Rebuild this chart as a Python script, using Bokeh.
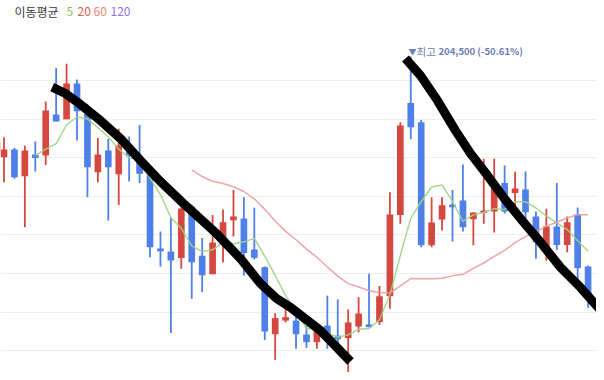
import pandas as pd
from bokeh.plotting import figure
from bokeh.models import Range1d, FixedTicker, Label, ColumnDataSource
from bokeh.embed import file_html
from bokeh.resources import INLINE

# ---- data (daily candles, price in KRW) ----
idx = list(range(-1, 57))
open_ = [163100, 160200, 163600, 151800, 161400, 160900, 179000, 176900, 192600, 179400,
         153600, 163100, 152700, 165600, 160100, 154300, 120000, 118700, 115800, 138500,
         116800, 108700, 122100, 132500, 133200, 119600, 111800, 82300, 88300, 88300,
         82200, 78800, 86100, 81700, 80600, 85700, 86600, 87600, 99000, 134800,
         184000, 175600, 121500, 132800, 139400, 141100, 132900, 135600, 136300, 148800,
         144400, 146000, 134100, 120000, 129700, 121600, 135000, 112100]
high = [169700, 169000, 164200, 165300, 167100, 184700, 199400, 201300, 194400, 183700,
        168600, 168300, 172700, 169300, 174400, 155700, 127500, 133500, 138900, 139400,
        124600, 134800, 137200, 145800, 142600, 137900, 112100, 91600, 94900, 91400,
        86100, 85400, 99300, 97600, 93200, 98600, 108900, 103500, 144800, 175600,
        204500, 176600, 142600, 142600, 145800, 157000, 135900, 159500, 159500, 156500,
        153800, 153900, 136300, 137500, 148800, 134100, 138100, 112500]
low = [158700, 149200, 150700, 129400, 153900, 156800, 175900, 176900, 167500, 142600,
       149200, 132300, 139200, 149500, 148800, 116200, 112100, 82800, 111100, 97900,
       100800, 108700, 114000, 125300, 108100, 115200, 79800, 71000, 87500, 75900,
       76300, 75900, 75900, 76000, 64600, 83100, 85400, 86400, 93500, 130900,
       168100, 120600, 120600, 127900, 123100, 127500, 121500, 130900, 127100, 135400,
       136300, 132300, 115500, 114700, 119400, 118400, 105900, 93900]
close = [166700, 163600, 151400, 163100, 159800, 180700, 175900, 192600, 180400, 155800,
         161400, 155800, 165300, 160900, 152900, 120600, 118800, 114700, 137600, 114000,
         108300, 122700, 131600, 134100, 118000, 115900, 83500, 89400, 89800, 82300,
         78800, 83900, 79800, 80100, 87500, 91400, 85400, 99000, 135000, 174100,
         173400, 121500, 131500, 139100, 138200, 129400, 135900, 136700, 147700, 136300,
         146400, 136000, 122800, 129700, 121600, 131600, 111400, 99800]

grid_ticks = [194000, 177000, 160000, 143000, 126000, 109000, 92000, 75000]

legend_labels = ["이동평균", "5", "20", "60", "120"]
legend_colors = ["#3a3a3a", "#8cc152", "#e05a55", "#f08a70", "#9a6cf2"]

peak_marker = "▼"
peak_word = "최고"
peak_value = "204,500 (-50.61%)"

# hand-drawn trend strokes (candle index, price)
draw1_x = [4.62, 5.90, 7.33, 9.25, 11.17, 13.09, 15.00, 17.21, 20.37, 22.67, 24.59, 26.13, 27.47, 30.35, 33.22]
draw1_y = [191000, 188200, 183400, 176300, 168400, 158700, 149500, 139800, 126600, 115600, 104600, 98000, 94100, 83900, 70300]
draw2_x = [38.49, 39.93, 41.56, 43.29, 44.73, 46.36, 47.89, 49.52, 51.15, 53.36, 55.27, 57.57]
draw2_y = [203600, 196100, 185100, 171900, 161800, 152100, 142500, 133200, 124400, 111700, 102900, 91000]

UP = "#d5483f"
DOWN = "#4f7fe8"

df = pd.DataFrame(dict(i=idx, open=open_, high=high, low=low, close=close))
df["top"] = df[["open", "close"]].max(axis=1)
df["bottom"] = df[["open", "close"]].min(axis=1)
df["color"] = [UP if c >= o else DOWN for o, c in zip(open_, close)]
df["ma5"] = df["close"].rolling(5).mean()
df["ma20"] = df["close"].rolling(20).mean()
src = ColumnDataSource(df)

p = figure(width=596, height=372, output_backend="svg", toolbar_location=None,
           x_range=Range1d(-0.3356, 56.807), y_range=Range1d(65460, 229140),
           min_border=0, outline_line_color=None)
p.xaxis.visible = False
p.yaxis.visible = False
p.xgrid.visible = False
p.ygrid.ticker = FixedTicker(ticks=grid_ticks)
p.ygrid.grid_line_color = "#eeeeee"
p.ygrid.grid_line_width = 1.2
p.background_fill_color = "white"
p.border_fill_color = "white"

p.segment(x0="i", y0="high", x1="i", y1="low", source=src, line_color="color", line_width=1.8)
p.vbar(x="i", width=0.64, top="top", bottom="bottom", source=src,
       fill_color="color", line_color=None)

p.line(x="i", y="ma5", source=src, line_color="#9fd484", line_width=1.5, line_alpha=0.9)
p.line(x="i", y="ma20", source=src, line_color="#f09a9a", line_width=1.5, line_alpha=0.9)

p.line(draw1_x, draw1_y, line_color="black", line_width=9, line_cap="butt", line_join="round")
p.line(draw2_x, draw2_y, line_color="black", line_width=9, line_cap="butt", line_join="round")

legend_x = [14, 66, 77, 93, 110]
for t, c, x in zip(legend_labels, legend_colors, legend_x):
    p.add_layout(Label(x=x, x_units="screen", y=224100, y_units="data", text=t,
                       text_font="Noto Sans CJK KR", text_font_size="12px",
                       text_color=c, text_baseline="middle"))

ann_color = "#6c7cb8"
p.add_layout(Label(x=408, x_units="screen", y=206920, text=peak_marker,
                   text_font="Noto Sans CJK KR", text_font_size="8px",
                   text_color=ann_color, text_baseline="middle"))
p.add_layout(Label(x=416, x_units="screen", y=206920, text=peak_word,
                   text_font="Noto Sans CJK KR", text_font_size="10.5px",
                   text_color=ann_color, text_baseline="middle"))
p.add_layout(Label(x=438, x_units="screen", y=206920, text=peak_value,
                   text_font="Noto Sans CJK KR", text_font_size="9.5px", text_font_style="bold",
                   text_color=ann_color, text_baseline="middle"))

open("out.html", "w").write(file_html(p, INLINE))
